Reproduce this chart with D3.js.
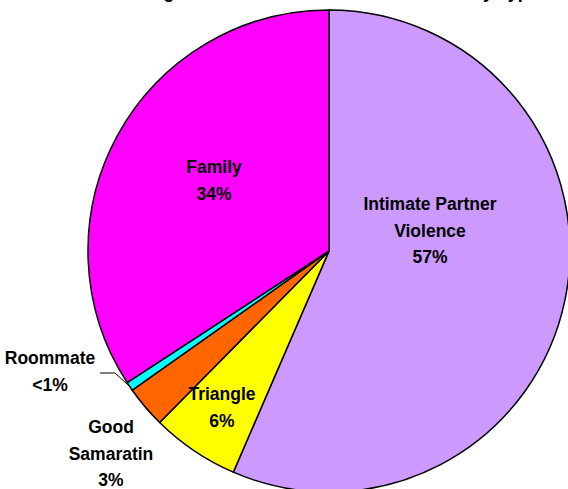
<!DOCTYPE html>
<html>
<head>
<meta charset="utf-8">
<script src="https://cdn.jsdelivr.net/npm/d3@7"></script>
<style>
  body { margin: 0; background: #fff; }
  svg { display: block; font-family: "Liberation Sans", Arial, sans-serif; font-weight: bold; }
</style>
</head>
<body>
<svg id="chart" width="568" height="489"></svg>
<script>
// datos (porcentajes)
const categorias = ["Intimate Partner Violence", "Triangle", "Good Samaratin", "Roommate", "Family"]
const valores = [56.5, 5.9, 2.8, 0.6, 34.2]
const colores = ["#CC99FF", "#FFFF00", "#FF6600", "#00FFFF", "#FF00FF"]
const etiquetas = [
  ["Intimate Partner", "Violence", "57%"],
  ["Triangle", "6%"],
  ["Good", "Samaratin", "3%"],
  ["Roommate", "<1%"],
  ["Family", "34%"]
]
const titulo = "Percentage of Domestic Violence Homicides by Type"

const svg = d3.select("#chart")
const cx = 329, cy = 251, radio = 241

// título (queda cortado arriba, como en la imagen)
svg.append("text")
  .attr("x", 313).attr("y", -2)
  .attr("text-anchor", "middle")
  .attr("font-size", 18)
  .text(titulo)

const pie = d3.pie().sort(null).value(d => d)
const arcos = pie(valores)
const arco = d3.arc().innerRadius(0).outerRadius(radio)

const g = svg.append("g").attr("transform", `translate(${cx},${cy})`)

g.selectAll("path")
  .data(arcos)
  .join("path")
  .attr("d", arco)
  .attr("fill", (d, i) => colores[i])
  .attr("stroke", "#000")
  .attr("stroke-width", 1.5)
  .attr("stroke-linejoin", "round")

// centros de las etiquetas (px de la imagen)
const posEtiqueta = [[430, 230], [222, 407], [111, 453], [50, 371], [214, 180]]
const altoLinea = 26.5

arcos.forEach((d, i) => {
  const x = posEtiqueta[i][0] - cx
  const y = posEtiqueta[i][1] - cy
  const lineas = etiquetas[i]
  const t = g.append("text")
    .attr("text-anchor", "middle")
    .attr("font-size", 17.5)
    .attr("fill", "#000")
  lineas.forEach((l, j) => {
    t.append("tspan")
      .attr("x", x)
      .attr("y", y + (j - (lineas.length - 1) / 2) * altoLinea + 6.5)
      .text(l)
  })
})

// línea guía para Roommate
const rm = arcos[3]
const angRm = (rm.startAngle + rm.endAngle) / 2
const px = Math.sin(angRm) * radio, py = -Math.cos(angRm) * radio
g.append("polyline")
  .attr("points", [[100 - cx, 373 - cy], [115 - cx, 373 - cy], [px, py]].map(p => p.join(",")).join(" "))
  .attr("fill", "none")
  .attr("stroke", "#000")
  .attr("stroke-width", 1)
</script>
</body>
</html>
